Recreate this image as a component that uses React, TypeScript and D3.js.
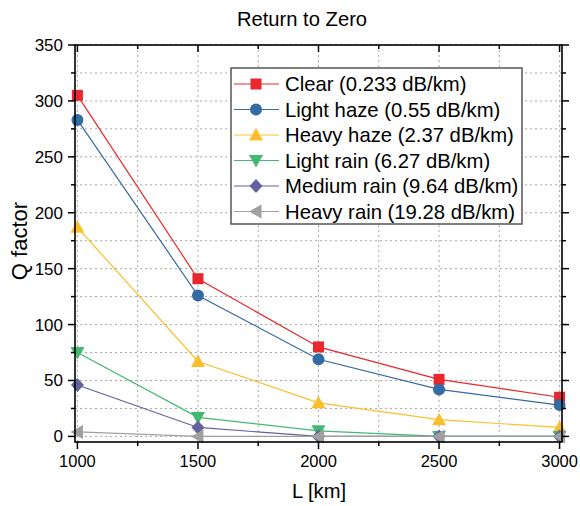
import React from "react";
import * as d3 from "d3";

const distances = [1000, 1500, 2000, 2500, 3000];
const seriesNames = [
  "Clear (0.233 dB/km)",
  "Light haze (0.55 dB/km)",
  "Heavy haze (2.37 dB/km)",
  "Light rain (6.27 dB/km)",
  "Medium rain (9.64 dB/km)",
  "Heavy rain (19.28 dB/km)",
];
const clear = [305, 141, 80, 51, 35];
const lightHaze = [283, 126, 69, 42, 28];
const heavyHaze = [187, 67, 30, 15, 8];
const lightRain = [75, 17, 5, 0, 0];
const mediumRain = [46, 8, 0, 0, 0];
const heavyRain = [4, 0, 0, 0, 0];
const seriesValues = [clear, lightHaze, heavyHaze, lightRain, mediumRain, heavyRain];
const colors = ["#e8282c", "#336ba3", "#fbbf2c", "#43b873", "#62629e", "#a0a0a0"];
const shapes = ["square", "circle", "triUp", "triDown", "diamond", "triLeft"];
const xTicks = [1000, 1500, 2000, 2500, 3000];
const yTicks = [0, 50, 100, 150, 200, 250, 300, 350];

const W = 580;
const H = 506;
const left = 75;
const right = 562;
const top = 45;
const bottom = 442;

function Marker({ shape, x, y, color }: { shape: string; x: number; y: number; color: string }) {
  if (shape === "square") return <rect x={x - 5.5} y={y - 5.5} width={11} height={11} fill={color} />;
  if (shape === "circle") return <circle cx={x} cy={y} r={6} fill={color} />;
  if (shape === "triUp")
    return <path d={`M${x},${y - 7} L${x + 7},${y + 5.5} L${x - 7},${y + 5.5} Z`} fill={color} />;
  if (shape === "triDown")
    return <path d={`M${x},${y + 7} L${x + 7},${y - 5.5} L${x - 7},${y - 5.5} Z`} fill={color} />;
  if (shape === "diamond")
    return <path d={`M${x},${y - 7} L${x + 6.5},${y} L${x},${y + 7} L${x - 6.5},${y} Z`} fill={color} />;
  return <path d={`M${x - 7},${y} L${x + 5.5},${y - 7} L${x + 5.5},${y + 7} Z`} fill={color} />;
}

export default function App() {
  const x = d3.scaleLinear().domain([990, 3010]).range([left, right]);
  const y = d3.scaleLinear().domain([-5, 350]).range([bottom, top]);
  const xMinor = d3.range(1000, 3001, 250);
  const yMinor = d3.range(0, 351, 25);
  const line = d3
    .line<number>()
    .x((_, i) => x(distances[i]))
    .y((d) => y(d));
  const font = "Arial, 'Liberation Sans', sans-serif";
  const legX = 231;
  const legY = 68;
  const legW = 291;
  const legH = 156;
  const rowH = 25.5;

  return (
    <svg width={W} height={H} style={{ position: "absolute", left: 0, top: 0, background: "#fff" }} fontFamily={font}>
      <rect x={0} y={0} width={W} height={H} fill="#fff" />
      <text x={302} y={26} textAnchor="middle" fontSize={20.2} fill="#000">
        Return to Zero
      </text>
      {/* grid */}
      {xMinor.map((v) => (
        <line key={"gx" + v} x1={x(v)} x2={x(v)} y1={top} y2={bottom} stroke="#a8a8a8" strokeDasharray="2,3" strokeWidth={1} />
      ))}
      {yMinor.map((v) => (
        <line key={"gy" + v} x1={left} x2={right} y1={y(v)} y2={y(v)} stroke="#a8a8a8" strokeDasharray="2,3" strokeWidth={1} />
      ))}
      {/* series */}
      {seriesValues.map((vals, si) => (
        <g key={"s" + si}>
          <path d={line(vals) || ""} fill="none" stroke={colors[si]} strokeWidth={1.2} />
        </g>
      ))}
      {seriesValues.map((vals, si) => (
        <g key={"m" + si}>
          {vals.map((v, i) => (
            <Marker key={i} shape={shapes[si]} x={x(distances[i])} y={y(v)} color={colors[si]} />
          ))}
        </g>
      ))}
      {/* frame */}
      <rect x={left} y={top} width={right - left} height={bottom - top} fill="none" stroke="#000" strokeWidth={1.6} />
      {/* ticks */}
      {xMinor.map((v) => {
        const major = xTicks.includes(v);
        return (
          <g key={"tx" + v}>
            <line x1={x(v)} x2={x(v)} y1={bottom} y2={bottom + (major ? 7 : 4)} stroke="#000" strokeWidth={1.5} />
            <line x1={x(v)} x2={x(v)} y1={top} y2={top + (major ? 7 : 4)} stroke="#000" strokeWidth={1.5} />
          </g>
        );
      })}
      {yMinor.map((v) => {
        const major = yTicks.includes(v);
        return (
          <g key={"ty" + v}>
            <line x1={left} x2={left - (major ? 7 : 4)} y1={y(v)} y2={y(v)} stroke="#000" strokeWidth={1.5} />
            <line x1={right} x2={right + (major ? 7 : 4)} y1={y(v)} y2={y(v)} stroke="#000" strokeWidth={1.5} />
          </g>
        );
      })}
      {xTicks.map((v) => (
        <text key={"lx" + v} x={x(v)} y={467} textAnchor="middle" fontSize={16.5} fill="#000">
          {v}
        </text>
      ))}
      {yTicks.map((v) => (
        <text key={"ly" + v} x={63} y={y(v) + 6} textAnchor="end" fontSize={17} fill="#000">
          {v}
        </text>
      ))}
      <text x={319} y={498} textAnchor="middle" fontSize={20.2} fill="#000">
        L [km]
      </text>
      <text transform={`translate(27,241) rotate(-90)`} textAnchor="middle" fontSize={22} fill="#000">
        Q factor
      </text>
      {/* legend */}
      <rect x={legX} y={legY} width={legW} height={legH} fill="#fff" stroke="#555" strokeWidth={1.5} />
      {seriesNames.map((name, i) => {
        const cy = legY + 16 + i * rowH;
        return (
          <g key={"leg" + i}>
            <line x1={legX + 3} x2={legX + 48} y1={cy} y2={cy} stroke={colors[i]} strokeWidth={1.2} />
            <Marker shape={shapes[i]} x={legX + 25} y={cy} color={colors[i]} />
            <text x={legX + 54} y={cy + 7} fontSize={20.3} fill="#000">
              {name}
            </text>
          </g>
        );
      })}
    </svg>
  );
}
